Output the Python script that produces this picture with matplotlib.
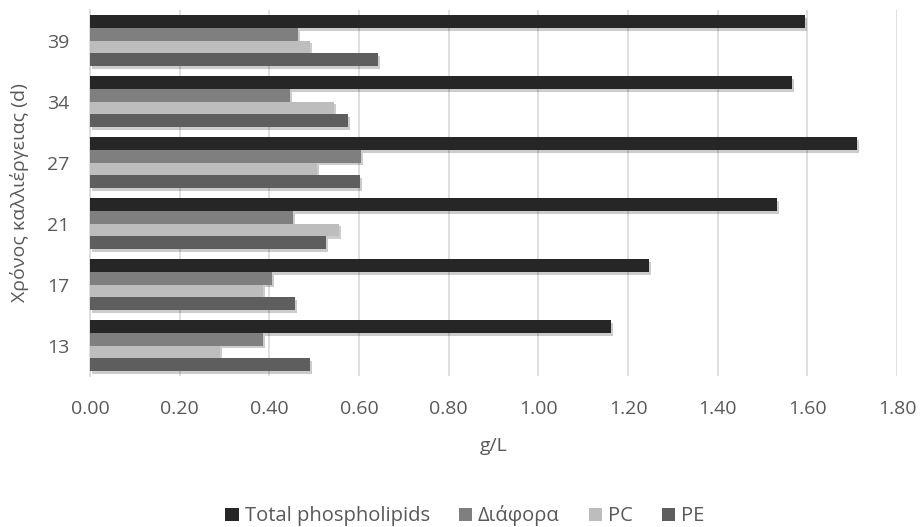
import matplotlib
matplotlib.use("Agg")
import matplotlib.pyplot as plt
import matplotlib.patheffects as pe
from matplotlib.patches import Patch
import numpy as np

categories = ["13", "17", "21", "27", "34", "39"]
series_names = ["Total phospholipids", "Διάφορα", "PC", "PE"]
total = [1.162, 1.246, 1.532, 1.710, 1.566, 1.594]
diafora = [0.385, 0.405, 0.452, 0.604, 0.446, 0.463]
pc = [0.290, 0.386, 0.555, 0.506, 0.544, 0.490]
pe_vals = [0.491, 0.457, 0.526, 0.602, 0.575, 0.642]
xticks = [0.0, 0.2, 0.4, 0.6, 0.8, 1.0, 1.2, 1.4, 1.6, 1.8]

colors = ["#262626", "#7f7f7f", "#bdbdbd", "#5e5e5e"]
values = [total, diafora, pc, pe_vals]

plt.rcParams['font.family'] = ['Open Sans', 'DejaVu Sans']
fig = plt.figure(figsize=(9.21, 5.27), dpi=100)
ax = fig.add_axes([0.0977, 0.2865, 0.8763, 0.6945])

n = len(categories)
y = np.arange(n)
h = 0.208
offsets = [1.5 * h, 0.5 * h, -0.5 * h, -1.5 * h]
shadow = [pe.SimplePatchShadow(offset=(1.5, -2), shadow_rgbFace="#000000", alpha=0.2), pe.Normal()]
for vals, col, off, name in zip(values, colors, offsets, series_names):
    bars = ax.barh(y + off, vals, height=h, color=col, zorder=3)
    for b in bars:
        b.set_path_effects(shadow)

ax.set_xlim(0, 1.8)
ax.set_ylim(-0.5, n - 0.5)
ax.set_xticks(xticks)
ax.set_xticklabels([f"{v:.2f}" for v in xticks])
ax.set_yticks(y)
ax.set_yticklabels(categories)
ax.grid(axis="x", color="#d9d9d9", linewidth=1.2, zorder=0)
for s in ["top", "right", "bottom"]:
    ax.spines[s].set_visible(False)
ax.spines["left"].set_color("#d9d9d9")
ax.spines["left"].set_linewidth(1.2)
ax.tick_params(axis="both", length=0, labelsize=14, labelcolor="#595959")
ax.tick_params(axis="x", pad=17)
ax.tick_params(axis="y", pad=15)
ax.set_xlabel("g/L", fontsize=14, color="#595959", labelpad=14)
ax.set_ylabel("Χρόνος καλλιέργειας (d)", fontsize=14, color="#595959", labelpad=13)

handles = [Patch(facecolor=c, edgecolor="none") for c in colors]
leg = fig.legend(handles, series_names, loc="center", bbox_to_anchor=(0.505, 0.021), ncol=4,
                 frameon=False, fontsize=14.5, labelcolor="#595959", handlelength=0.65,
                 handleheight=0.65, handletextpad=0.3, columnspacing=1.45)

fig.savefig("out.png", dpi=100)
